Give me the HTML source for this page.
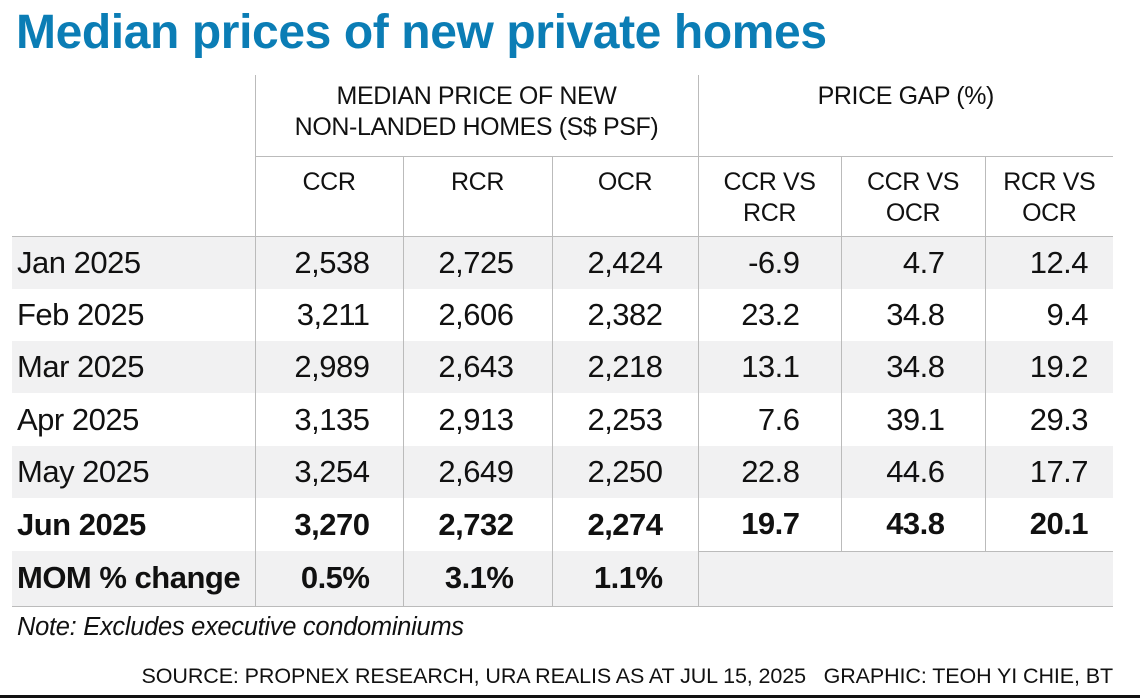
<!DOCTYPE html>
<html><head><meta charset="utf-8"><style>
body{margin:0;width:1140px;height:699px;background:#fff;position:relative;overflow:hidden;font-family:"Liberation Sans",sans-serif;color:#111}
.t{position:absolute;left:16px;top:5px;font-size:48px;font-weight:bold;color:#0b7db5;letter-spacing:-0.4px;white-space:nowrap}
table{position:absolute;left:12px;top:75px;border-collapse:collapse;table-layout:fixed;width:1101px}
td{padding:0;font-size:31px;letter-spacing:-0.5px;white-space:nowrap}
td.v{border-left:1px solid #bbb}
.num{text-align:right}
.h{font-size:25px;letter-spacing:-0.4px;text-align:center;vertical-align:top;line-height:31px}
.g td{background:#f1f1f2}
.b td{font-weight:bold}
.lab{padding-left:5px}
.note{position:absolute;left:17px;top:613px;font-size:25.5px;font-style:italic;letter-spacing:-0.3px}
.src{position:absolute;right:27px;top:664px;font-size:21.5px;letter-spacing:-0.1px;white-space:nowrap}
.line{position:absolute;left:0;top:695px;width:1140px;height:3px;background:#111}
</style></head><body>
<div class="t">Median prices of new private homes</div>
<table>
<colgroup><col style="width:243px"><col style="width:148px"><col style="width:149px"><col style="width:146px"><col style="width:143px"><col style="width:144px"><col style="width:128px"></colgroup>
<tr style="height:81px"><td></td><td class="v h" colspan="3" style="padding-top:6px;border-bottom:1px solid #bbb">MEDIAN PRICE OF NEW<br>NON-LANDED HOMES (S$ PSF)</td><td class="v h" colspan="3" style="padding-top:6px;border-bottom:1px solid #bbb">PRICE GAP (%)</td></tr>
<tr style="height:80px;border-bottom:1px solid #bbb"><td></td><td class="v h" style="padding-top:10px">CCR</td><td class="v h" style="padding-top:10px">RCR</td><td class="v h" style="padding-top:10px">OCR</td><td class="v h" style="padding-top:10px">CCR VS<br>RCR</td><td class="v h" style="padding-top:10px">CCR VS<br>OCR</td><td class="v h" style="padding-top:10px">RCR VS<br>OCR</td></tr>
<tr class="g" style="height:53px"><td class="lab">Jan 2025</td><td class="v num" style="padding-right:33px">2,538</td><td class="v num" style="padding-right:38px">2,725</td><td class="v num" style="padding-right:35px">2,424</td><td class="v num" style="padding-right:41px">-6.9</td><td class="v num" style="padding-right:40px">4.7</td><td class="v num" style="padding-right:25px">12.4</td></tr>
<tr style="height:52px"><td class="lab">Feb 2025</td><td class="v num" style="padding-right:33px">3,211</td><td class="v num" style="padding-right:38px">2,606</td><td class="v num" style="padding-right:35px">2,382</td><td class="v num" style="padding-right:41px">23.2</td><td class="v num" style="padding-right:40px">34.8</td><td class="v num" style="padding-right:25px">9.4</td></tr>
<tr class="g" style="height:52px"><td class="lab">Mar 2025</td><td class="v num" style="padding-right:33px">2,989</td><td class="v num" style="padding-right:38px">2,643</td><td class="v num" style="padding-right:35px">2,218</td><td class="v num" style="padding-right:41px">13.1</td><td class="v num" style="padding-right:40px">34.8</td><td class="v num" style="padding-right:25px">19.2</td></tr>
<tr style="height:53px"><td class="lab">Apr 2025</td><td class="v num" style="padding-right:33px">3,135</td><td class="v num" style="padding-right:38px">2,913</td><td class="v num" style="padding-right:35px">2,253</td><td class="v num" style="padding-right:41px">7.6</td><td class="v num" style="padding-right:40px">39.1</td><td class="v num" style="padding-right:25px">29.3</td></tr>
<tr class="g" style="height:52px"><td class="lab">May 2025</td><td class="v num" style="padding-right:33px">3,254</td><td class="v num" style="padding-right:38px">2,649</td><td class="v num" style="padding-right:35px">2,250</td><td class="v num" style="padding-right:41px">22.8</td><td class="v num" style="padding-right:40px">44.6</td><td class="v num" style="padding-right:25px">17.7</td></tr>
<tr class="b" style="height:53px"><td class="lab">Jun 2025</td><td class="v num" style="padding-right:33px">3,270</td><td class="v num" style="padding-right:38px">2,732</td><td class="v num" style="padding-right:35px">2,274</td><td class="v num" style="padding-right:41px;border-bottom:1px solid #bbb">19.7</td><td class="v num" style="padding-right:40px;border-bottom:1px solid #bbb">43.8</td><td class="v num" style="padding-right:25px;border-bottom:1px solid #bbb">20.1</td></tr>
<tr class="g b" style="height:55px;border-bottom:1px solid #bbb"><td class="lab">MOM % change</td><td class="v num" style="padding-right:33px">0.5%</td><td class="v num" style="padding-right:38px">3.1%</td><td class="v num" style="padding-right:35px">1.1%</td><td class="v" colspan="3"></td></tr>
</table>
<div class="note">Note: Excludes executive condominiums</div>
<div class="src">SOURCE: PROPNEX RESEARCH, URA REALIS AS AT JUL 15, 2025 &nbsp;&nbsp;GRAPHIC: TEOH YI CHIE, BT</div>
<div class="line"></div>
</body></html>
